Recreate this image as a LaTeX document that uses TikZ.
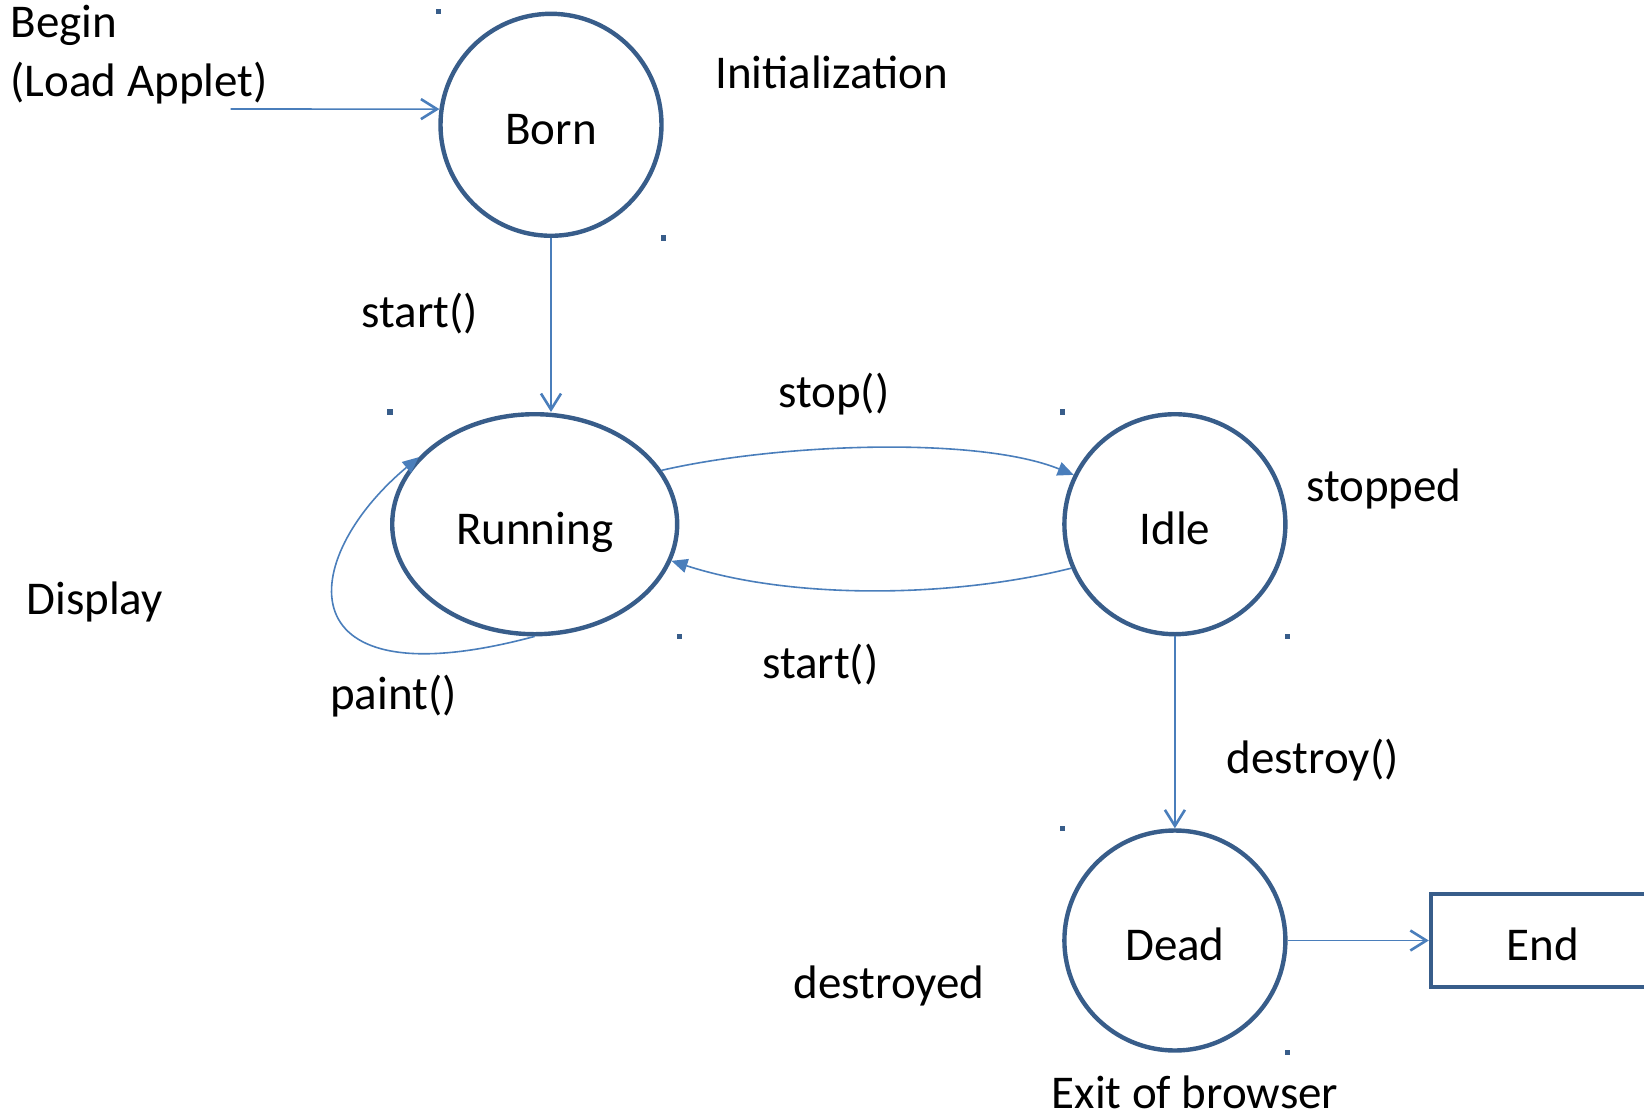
\documentclass[tikz,border=0pt]{standalone}
\usepackage{fontspec}
\setmainfont{Carlito}
\usepackage{xcolor}
\usepackage{tikz}
\usetikzlibrary{arrows.meta,shapes.geometric}
\definecolor{stateblue}{RGB}{56,93,138}
\definecolor{linkblue}{RGB}{74,126,187}

\tikzset{
    phase/.style={
        ellipse,
        draw=stateblue,
        line width=4.4pt,
        inner sep=0pt,
        text height=46pt,
        text depth=6pt,
        minimum width=221pt,
        minimum height=220pt
    },
    link/.style={draw=linkblue, line width=1.6pt},
    openhead/.style={link, -{Straight Barb[length=16pt,width=20pt,line width=2.6pt]}},
    fullhead/.style={link, -{Triangle[length=16pt,width=14pt]}},
    lbl/.style={anchor=base west, inner sep=0pt}
}

\begin{document}
\begin{tikzpicture}[x=1pt, y=1pt, font=\fontsize{47}{56}\selectfont]

\useasboundingbox (0,0) rectangle (1644,-1117);

\node[phase, minimum height=222pt] (born) at (551,-124.8) {Born};
\node[phase, minimum width=285pt] (running) at (534.7,-524.2) {Running};
\node[phase] (idle) at (1174.9,-524.2) {Idle};
\node[phase] (dead) at (1174.9,-940.5) {Dead};
\node[
    draw=stateblue,
    line width=4.4pt,
    text height=46pt,
    text depth=6pt,
    minimum width=224pt,
    minimum height=93pt
] (end) at (1543,-940.5) {End};

\foreach \n in {born,running,idle,dead} {
    \fill[stateblue] (\n.west |- \n.north) +(-2.7,-2.7) rectangle +(2.7,2.7);
    \fill[stateblue] (\n.east |- \n.south) +(-2.7,-2.7) rectangle +(2.7,2.7);
}

\coordinate (load) at (230.7,-109);
\draw[openhead] (load) -- (born.172);
\draw[openhead] (born.south) -- (born.south |- running.north);
\draw[fullhead] (running.23) .. controls +(117,27) and +(-96,38.8) .. (idle.154);
\draw[fullhead] (idle.203) .. controls +(-121.3,-30.2) and +(118.9,-38.6) .. (running.345);
\draw[fullhead] (running.south) .. controls +(-251,-67.3) and +(-122.6,-102.9) .. (running.150);
\draw[openhead] (idle.south) -- (dead.north);
\draw[openhead] (dead.east) -- (end.west);

\node[lbl] (begin) at (10.5,-37.7) {Begin};
\node[lbl] (loadapplet) at (10.5,-96.5) {(Load Applet)};
\node[lbl] (init) at (715,-88) {Initialization};
\node[lbl] (startlbl) at (361.7,-327) {start()};
\node[lbl] (stoplbl) at (778,-407) {stop()};
\node[lbl] (stopped) at (1306,-501) {stopped};
\node[lbl] (display) at (26.2,-614.4) {Display};
\node[lbl] (paintlbl) at (330,-709.8) {paint()};
\node[lbl] (restartlbl) at (762,-678) {start()};
\node[lbl] (destroylbl) at (1226.7,-773.8) {destroy()};
\node[lbl] (destroyed) at (793.7,-998) {destroyed};
\node[lbl] (exit) at (1051.6,-1108) {Exit of browser};

\end{tikzpicture}
\end{document}
